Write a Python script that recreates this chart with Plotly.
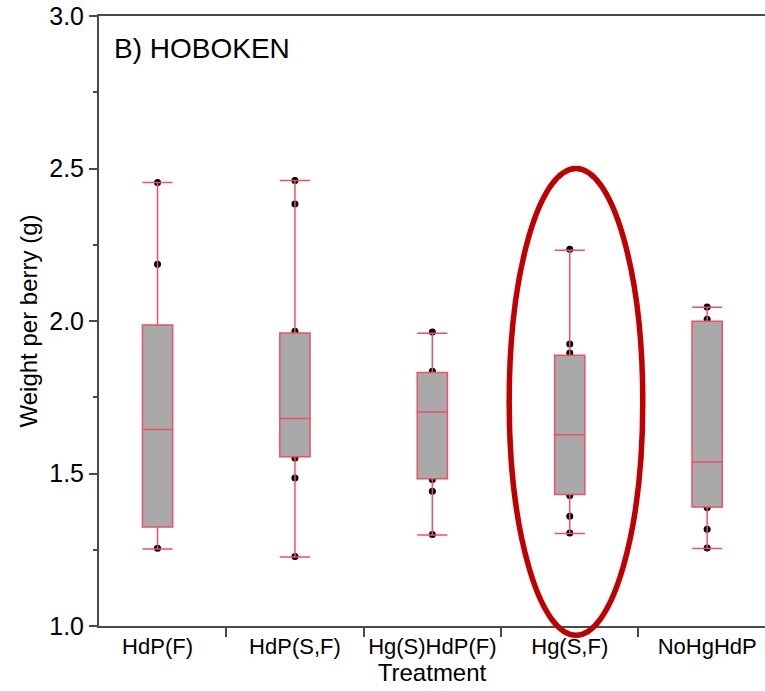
import plotly.graph_objects as go

categories = ["HdP(F)", "HdP(S,F)", "Hg(S)HdP(F)", "Hg(S,F)", "NoHgHdP"]

# Box statistics
lower_whisker = [1.2525, 1.226, 1.298, 1.303, 1.254]
q1_values = [1.325, 1.555, 1.483, 1.431, 1.390]
median_values = [1.644, 1.680, 1.702, 1.627, 1.538]
q3_values = [1.987, 1.961, 1.831, 1.8875, 1.999]
upper_whisker = [2.454, 2.461, 1.960, 2.232, 2.045]

# Visible individual observations
points_hdp_f = [2.454, 2.186, 1.255]
points_hdp_sf = [2.461, 2.384, 1.966, 1.551, 1.485, 1.228]
points_hgs_hdp_f = [1.964, 1.835, 1.480, 1.442, 1.300]
points_hg_sf = [2.235, 1.925, 1.895, 1.4275, 1.360, 1.305]
points_nohg_hdp = [2.046, 2.0055, 1.388, 1.317, 1.256]

y_ticks = [1.0, 1.5, 2.0, 2.5, 3.0]

point_groups = [points_hdp_f, points_hdp_sf, points_hgs_hdp_f, points_hg_sf, points_nohg_hdp]
px_, py_ = [], []
for cat, vals in zip(categories, point_groups):
    px_ += [cat] * len(vals)
    py_ += vals

FONT = "Arial, Liberation Sans, sans-serif"
LINE_RED = "#EF5063"

fig = go.Figure()

fig.add_trace(go.Scatter(
    x=px_, y=py_, mode="markers",
    marker=dict(color="black", size=7),
    showlegend=False, hoverinfo="y",
))

fig.add_trace(go.Box(
    x=categories,
    q1=q1_values, median=median_values, q3=q3_values,
    lowerfence=lower_whisker, upperfence=upper_whisker,
    boxpoints=False,
    fillcolor="#A9A9A9",
    line=dict(color=LINE_RED, width=1.5),
    whiskerwidth=1,
    width=0.22,
    xaxis="x2", yaxis="y2",
    showlegend=False,
))

axis_line = "#4A4A4A"
fig.update_layout(
    width=765, height=691,
    margin=dict(l=99, r=0, t=16, b=65),
    paper_bgcolor="white", plot_bgcolor="white",
    font=dict(family=FONT, color="black"),
    xaxis=dict(
        type="category", categoryorder="array", categoryarray=categories,
        range=[-0.426, 4.421], automargin=False, tickangle=0,
        showline=True, linecolor=axis_line, linewidth=2, mirror=True,
        ticks="outside", tickson="boundaries", ticklen=9, tickwidth=1.5, tickcolor=axis_line,
        showgrid=False, zeroline=False,
        tickfont=dict(size=22, family=FONT),
        title=dict(text="Treatment", font=dict(size=24, family=FONT), standoff=2),
    ),
    yaxis=dict(
        range=[1.0, 3.0], tickvals=y_ticks, tickformat=".1f", automargin=False,
        showline=True, linecolor=axis_line, linewidth=2,
        ticks="outside", ticklen=8, tickwidth=1.5, tickcolor=axis_line,
        minor=dict(dtick=0.25, ticks="outside", ticklen=4, tickwidth=1.5, tickcolor=axis_line),
        showgrid=False, zeroline=False,
        tickfont=dict(size=25, family=FONT),
        title=dict(text="Weight per berry (g)", font=dict(size=24, family=FONT), standoff=5),
    ),
    xaxis2=dict(overlaying="x", matches="x", visible=False, type="category",
                categoryorder="array", categoryarray=categories),
    yaxis2=dict(overlaying="y", matches="y", visible=False),
    annotations=[dict(
        text="B) HOBOKEN", xref="paper", yref="paper", x=0.019, y=0.9467,
        xanchor="left", yanchor="middle", showarrow=False,
        font=dict(size=28, family=FONT, color="black"),
    )],
    shapes=[dict(
        type="circle", xref="paper", yref="paper",
        x0=0.6159, x1=0.8165, y0=-0.0151, y1=0.75,
        line=dict(color="#C00000", width=5.5), layer="above",
    )],
)

fig.write_html("out.html", config={"displayModeBar": False},
               post_script="document.body.style.margin='0px';")
